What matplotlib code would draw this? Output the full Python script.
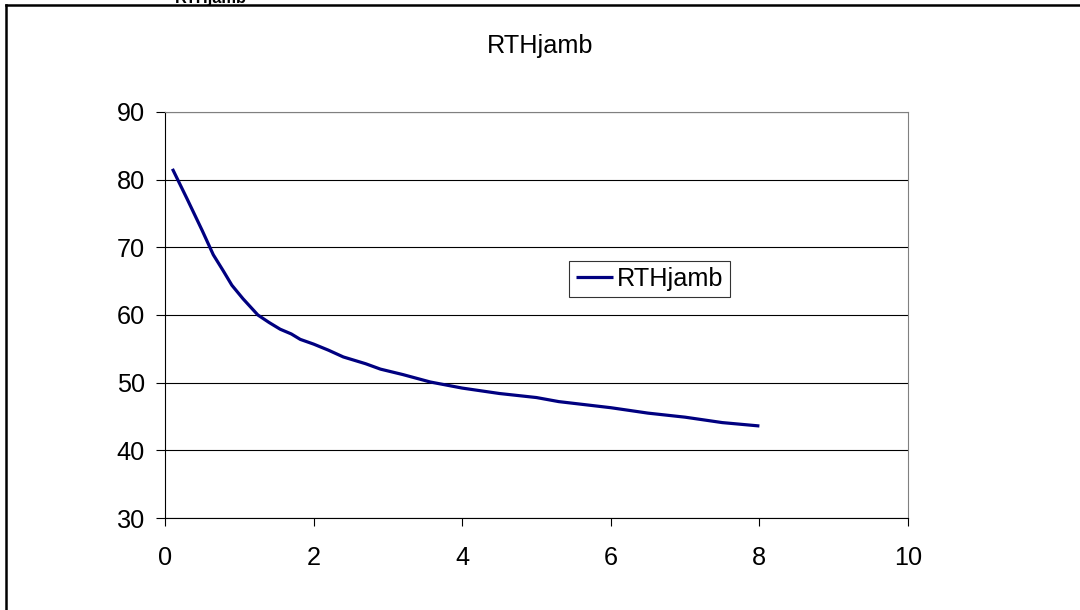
import matplotlib
matplotlib.use("Agg")
import matplotlib.pyplot as plt
from matplotlib.lines import Line2D

plt.rcParams['font.family'] = ['Liberation Sans', 'DejaVu Sans']

# data
x = [0.1, 0.3, 0.5, 0.65, 0.78, 0.9, 1.05, 1.25, 1.4, 1.55, 1.7, 1.82, 2.0, 2.2,
     2.4, 2.7, 2.9, 3.2, 3.57, 4.0, 4.5, 5.0, 5.3, 6.0, 6.5, 7.0, 7.5, 8.0]
y = [81.6, 77.1, 72.5, 68.9, 66.6, 64.4, 62.4, 60.0, 58.9, 57.9, 57.2, 56.4, 55.7, 54.8,
     53.8, 52.8, 52.0, 51.2, 50.1, 49.2, 48.4, 47.8, 47.2, 46.3, 45.5, 44.9, 44.1, 43.6]
series = "RTHjamb"
xticks = [0, 2, 4, 6, 8, 10]
yticks = [30, 40, 50, 60, 70, 80, 90]

fs = 18.2

fig = plt.figure(figsize=(10.8, 6.1), dpi=100)
ax = fig.add_axes([165/1080, 1 - 518/610, 743/1080, 406/610])

ax.plot(x, y, color="#000080", lw=2.3, label=series, solid_capstyle="butt")

ax.set_xlim(0, 10)
ax.set_ylim(30, 90)
ax.set_xticks(xticks)
ax.set_yticks(yticks)
ax.tick_params(axis="both", labelsize=fs, direction="out", color="black", width=0.8)
ax.tick_params(axis="y", length=6.5, pad=8)
ax.tick_params(axis="x", length=6, pad=14)
ax.yaxis.grid(True, color="black", lw=0.8)
ax.set_axisbelow(True)

for s in ["left", "bottom"]:
    ax.spines[s].set_color("black")
    ax.spines[s].set_linewidth(0.8)
for s in ["top", "right"]:
    ax.spines[s].set_color("#808080")
    ax.spines[s].set_linewidth(0.8)

leg = ax.legend(loc="lower left", bbox_to_anchor=(0.544, 0.5436), fontsize=fs,
                frameon=True, fancybox=False, borderaxespad=0, borderpad=0.25,
                handlelength=1.5, handletextpad=0.15)
leg.get_frame().set_edgecolor("black")
leg.get_frame().set_linewidth(0.8)

fig.text(0.5, 1 - 53/610, series, ha="center", va="baseline", fontsize=fs)

# outer frame, only the left and top edges show
fig.add_artist(Line2D([6/1080, 6/1080], [0, 1 - 4.5/610], transform=fig.transFigure,
                      color="black", lw=1.8))
fig.add_artist(Line2D([6/1080, 1], [1 - 4.5/610, 1 - 4.5/610], transform=fig.transFigure,
                      color="black", lw=1.8))
# cut-off heading above the frame
fig.text(211/1080, 1 - 2.5/610, series, ha="center", va="baseline",
         fontsize=11.8, fontweight="bold")

fig.savefig("out.png", dpi=100)
